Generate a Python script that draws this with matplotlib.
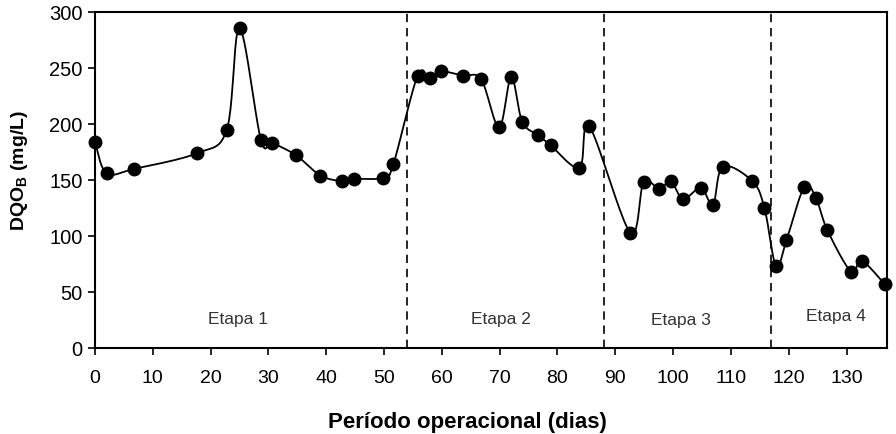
import matplotlib
matplotlib.use("Agg")
import matplotlib.pyplot as plt
import numpy as np

plt.rcParams['font.family'] = ['Liberation Sans', 'DejaVu Sans']
plt.rcParams['mathtext.fontset'] = 'custom'
plt.rcParams['mathtext.rm'] = 'Liberation Sans'
plt.rcParams['mathtext.bf'] = 'Liberation Sans:bold'

# dias de operacao e DQO (mg/L)
dias = [0, 2.0, 6.8, 17.7, 22.8, 25.0, 28.7, 30.7, 34.8, 39.0, 42.8, 44.8,
        49.9, 51.6, 55.8, 57.9, 59.9, 63.7, 66.8, 69.9, 72.0, 73.9, 76.7,
        78.8, 83.8, 85.5, 92.6, 94.9, 97.6, 99.6, 101.7, 104.8, 106.9, 108.6,
        113.7, 115.8, 117.8, 119.6, 122.7, 124.7, 126.7, 130.8, 132.6, 136.6]
dqo = [184, 156, 160, 174, 195, 286, 186, 183, 172, 154, 149, 151,
       152, 164, 243, 241, 247, 243, 240, 197, 242, 202, 190,
       181, 161, 198, 103, 148, 142, 149, 133, 143, 128, 162,
       149, 125, 73, 96, 144, 134, 105, 68, 78, 57]

limites_etapas = [54, 88, 117]
etapas = ['Etapa 1', 'Etapa 2', 'Etapa 3', 'Etapa 4']
etapas_x = [24.7, 70.3, 101.4, 128.2]
etapas_y = [26, 26, 25, 29]

xmin, xmax = 0, 137
ymin, ymax = 0, 300

fig = plt.figure(figsize=(8.96, 4.35), dpi=100)
ax = fig.add_axes([95/896, 1 - 349/435, (887-95)/896, (349-13)/435])
ax.set_xlim(xmin, xmax)
ax.set_ylim(ymin, ymax)

# linha suavizada (bezier tipo Excel) calculada em pixels
sx = (887 - 95) / (xmax - xmin)
sy = (349 - 13) / (ymax - ymin)
P = np.column_stack([np.array(dias) * sx, np.array(dqo) * sy])
curva = []
for i in range(len(P) - 1):
    p0 = P[i - 1] if i > 0 else P[i]
    p1, p2 = P[i], P[i + 1]
    p3 = P[i + 2] if i + 2 < len(P) else P[i + 1]
    c1 = p1 + (p2 - p0) / 6
    c2 = p2 - (p3 - p1) / 6
    t = np.linspace(0, 1, 25)[:, None]
    seg = (1-t)**3 * p1 + 3*(1-t)**2*t * c1 + 3*(1-t)*t**2 * c2 + t**3 * p2
    curva.append(seg)
curva = np.vstack(curva)
ax.plot(curva[:, 0] / sx, curva[:, 1] / sy, color='black', lw=1.3, zorder=3,
        clip_on=False)
ax.plot(dias, dqo, 'o', color='black', ms=9, zorder=4, clip_on=False)

for xl in limites_etapas:
    ax.axvline(xl, color='black', lw=1.2, ls=(0, (5, 3.5)), zorder=2)

for nome, x, y in zip(etapas, etapas_x, etapas_y):
    ax.text(x, y, nome, ha='center', va='center', fontsize=12.5, color='#333333')

ax.set_xticks(np.arange(0, 131, 10))
ax.set_yticks(np.arange(0, 301, 50))
ax.tick_params(direction='out', length=5, width=1.2, colors='black')
ax.tick_params(axis='x', labelsize=14, pad=10)
ax.tick_params(axis='y', labelsize=14.5, pad=4)
for s in ax.spines.values():
    s.set_linewidth(1.5)

ax.set_xlabel('Período operacional (dias)', fontsize=16, fontweight='bold',
              labelpad=18)
ax.xaxis.label.set_x(0.47)
ax.set_ylabel(r'DQO$_{\mathbf{B}}$ (mg/L)', fontsize=14, fontweight='bold',
              labelpad=14)
ax.yaxis.label.set_y(0.53)

fig.savefig('out.png', dpi=100)
